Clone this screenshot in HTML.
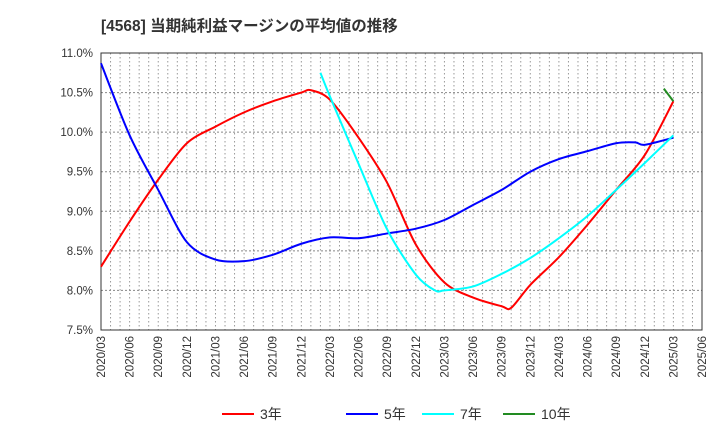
<!DOCTYPE html>
<html><head><meta charset="utf-8"><style>
body{margin:0;background:#fff;font-family:"Liberation Sans","Noto Sans CJK JP",sans-serif}
</style></head><body>
<svg id="c" width="720" height="440" xmlns="http://www.w3.org/2000/svg">
<text x="101" y="31" font-size="15.5" font-weight="bold" fill="#333" font-family="Liberation Sans, Noto Sans CJK JP, sans-serif">[4568]  当期純利益マージンの平均値の推移</text>
<g id="grid"></g><g id="axes"></g><g id="series"></g><g id="legend"></g>
</svg>
<script>
const yTicks=[7.5,8.0,8.5,9.0,9.5,10.0,10.5,11.0];
const xLabels=["2020/03","2020/06","2020/09","2020/12","2021/03","2021/06","2021/09","2021/12","2022/03","2022/06","2022/09","2022/12","2023/03","2023/06","2023/09","2023/12","2024/03","2024/06","2024/09","2024/12","2025/03","2025/06"];
const m3=[0,3,6,9,12,15,18,21,22,24,27,30,33,36,39,42,43,45,48,51,54,57,60];
const v3=[8.3,8.87,9.4,9.86,10.07,10.25,10.39,10.5,10.53,10.41,9.93,9.36,8.58,8.1,7.91,7.8,7.78,8.07,8.42,8.83,9.27,9.71,10.39];
const m5=[0,3,6,9,12,15,18,21,24,27,30,33,36,39,42,45,48,51,54,56,57,60];
const v5=[10.87,9.96,9.27,8.61,8.39,8.37,8.45,8.59,8.67,8.66,8.72,8.78,8.89,9.08,9.27,9.5,9.66,9.76,9.86,9.87,9.84,9.93];
const m7=[23,24,27,30,33,35,36,39,42,45,48,51,54,57,60];
const v7=[10.75,10.45,9.6,8.77,8.2,8.0,8.0,8.05,8.21,8.41,8.66,8.94,9.27,9.61,9.96];
const m10=[59,60];
const v10=[10.55,10.39];
const L=101,R=702,T=53,B=330,NM=63;
const X=i=>L+i*(R-L)/NM, Y=v=>B-(v-7.5)/3.5*(B-T);
const ns="http://www.w3.org/2000/svg";
function mk(p,t,a){const e=document.createElementNS(ns,t);for(const k in a)e.setAttribute(k,a[k]);p.appendChild(e);return e;}
const g=document.getElementById('grid'),ax=document.getElementById('axes'),s=document.getElementById('series'),lg=document.getElementById('legend');
for(let i=1;i<NM;i++){const l=mk(g,'line',{x1:X(i),x2:X(i),y1:T,y2:B,stroke:'#999','stroke-dasharray':'1.5,2.5','stroke-width':1});

}
yTicks.forEach(v=>{if(v>7.5&&v<11){const l=mk(g,'line',{x1:L,x2:R,y1:Y(v),y2:Y(v),stroke:'#888','stroke-dasharray':'2,2','stroke-width':1});

}
const t=mk(ax,'text',{x:L-8,y:Y(v)+4,'text-anchor':'end','font-size':11.5,fill:'#333'});t.textContent=v.toFixed(1)+'%';

});
const fr=mk(ax,'rect',{x:L,y:T,width:R-L,height:B-T,fill:'none',stroke:'#333','stroke-width':1});


xLabels.forEach((lab,i)=>{const x=X(i*3);const t=mk(ax,'text',{x:x+4,y:B+6,'text-anchor':'end','font-size':11.5,fill:'#333',transform:`rotate(-90 ${x+4} ${B+6})`});t.textContent=lab;

});
function line(m,v,c,n){
const P=m.map((k,i)=>[X(k),Y(v[i])]);
let d='M'+P[0][0]+','+P[0][1];
for(let i=0;i<P.length-1;i++){const p0=P[Math.max(i-1,0)],p1=P[i],p2=P[i+1],p3=P[Math.min(i+2,P.length-1)];
const t=0.15;
d+=` C${p1[0]+(p2[0]-p0[0])*t},${p1[1]+(p2[1]-p0[1])*t} ${p2[0]-(p3[0]-p1[0])*t},${p2[1]-(p3[1]-p1[1])*t} ${p2[0]},${p2[1]}`;}
const p=mk(s,'path',{d:d,fill:'none',stroke:c,'stroke-width':2,'stroke-linejoin':'round'});

}
line(m3,v3,'#ff0000','series-3yr');line(m5,v5,'#0000ff','series-5yr');line(m7,v7,'#00ffff','series-7yr');line(m10,v10,'#228b22','series-10yr');
[['3年','#ff0000',222],['5年','#0000ff',346],['7年','#00ffff',422],['10年','#228b22',503]].forEach(([n,c,x])=>{
const gg=mk(lg,'g',{});


mk(gg,'line',{x1:x,x2:x+32,y1:414,y2:414,stroke:c,'stroke-width':2});
const t=mk(gg,'text',{x:x+38,y:419,'font-size':14,fill:'#333'});t.textContent=n;});
</script>
</body></html>
